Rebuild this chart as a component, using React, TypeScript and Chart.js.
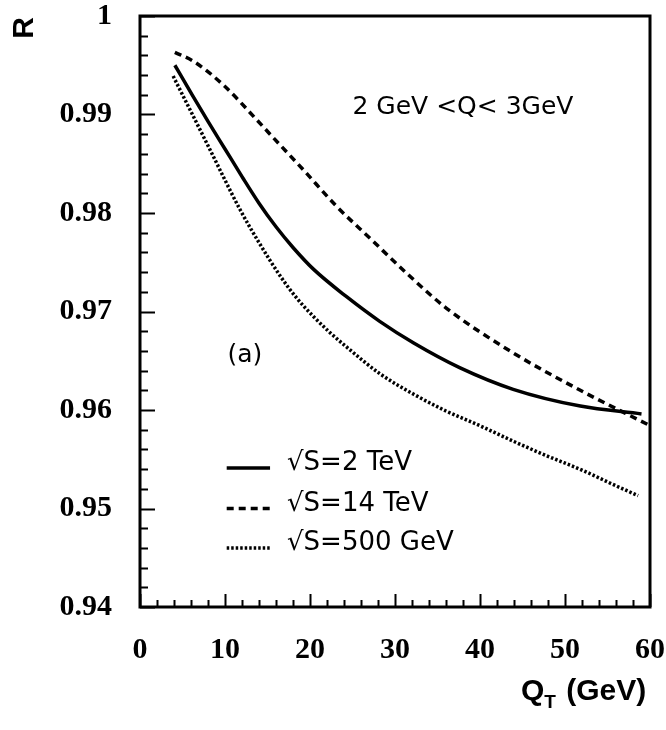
import React, { useEffect, useRef } from "react";
import { Chart, registerables } from "chart.js";

Chart.register(...registerables);

// Q_T (GeV) and R values
const qt2TeV = [4.1, 6, 8, 10, 12, 14, 16, 18, 20.4, 24.3, 28.2, 32.2, 37.6, 43.9, 51.8, 59.0];
const r2TeV = [0.995, 0.9922, 0.9893, 0.9865, 0.9837, 0.981, 0.9786, 0.9765, 0.9743, 0.9715, 0.969, 0.9668, 0.9643, 0.9621, 0.9604, 0.9596];

const qt14TeV = [4.1, 6.3, 9.8, 13.7, 15.3, 19.2, 23.1, 27.1, 31.6, 36.1, 43.9, 51.8, 59.8];
const r14TeV = [0.9963, 0.9954, 0.993, 0.9895, 0.988, 0.9844, 0.9807, 0.9774, 0.9737, 0.9703, 0.9658, 0.962, 0.9585];

const qt500GeV = [3.9, 7.85, 11.8, 14, 16.5, 18.4, 20.4, 22.3, 24.3, 28.2, 32.2, 36.0, 40.0, 44.0, 48.0, 52.0, 55.5, 58.6];
const r500GeV = [0.9939, 0.9871, 0.9803, 0.977, 0.9736, 0.9714, 0.9695, 0.9679, 0.9664, 0.9637, 0.9616, 0.9599, 0.9584, 0.9568, 0.9553, 0.9539, 0.9525, 0.9513];

const xTickValues = [0, 10, 20, 30, 40, 50, 60];
const yTickValues = [0.94, 0.95, 0.96, 0.97, 0.98, 0.99, 1];

const seriesLabels = ["\u221AS=2 TeV", "\u221AS=14 TeV", "\u221AS=500 GeV"];
const rangeLabel = "2 GeV <Q< 3GeV";
const panelLabel = "(a)";

const toPoints = (xs: number[], ys: number[]) => xs.map((x, i) => ({ x, y: ys[i] }));

const DASHES: number[][] = [[], [7, 5], [2.5, 2]];
const WIDTHS = [3.5, 3.5, 3.5];

export default function App() {
  const ref = useRef<HTMLCanvasElement | null>(null);

  useEffect(() => {
    if (!ref.current) return;
    const decor = {
      id: "decor",
      afterDraw(chart: any) {
        const ctx = chart.ctx as CanvasRenderingContext2D;
        const { left, right, top, bottom } = chart.chartArea;
        const xs = chart.scales.x;
        const ys = chart.scales.y;
        ctx.save();
        ctx.strokeStyle = "#000";
        ctx.fillStyle = "#000";
        // ticks
        ctx.lineWidth = 2;
        ctx.beginPath();
        for (let i = 0; i <= 30; i++) {
          const v = i * 2;
          const px = Math.round(xs.getPixelForValue(v)) + 0.5;
          const len = v % 10 === 0 ? 13 : 7;
          ctx.moveTo(px, bottom);
          ctx.lineTo(px, bottom - len);
        }
        for (let i = 0; i <= 30; i++) {
          const v = 0.94 + i * 0.002;
          const py = Math.round(ys.getPixelForValue(v)) + 0.5;
          const len = i % 5 === 0 ? 15 : 8;
          ctx.moveTo(left, py);
          ctx.lineTo(left + len, py);
        }
        ctx.stroke();
        // frame
        ctx.lineWidth = 3;
        ctx.strokeRect(left, top, right - left, bottom - top);

        // annotations
        ctx.textBaseline = "alphabetic";
        ctx.textAlign = "left";
        ctx.font = "25px 'DejaVu Sans'";
        ctx.fillText(rangeLabel, xs.getPixelForValue(25.0), ys.getPixelForValue(0.9901));
        ctx.fillText(panelLabel, xs.getPixelForValue(10.3), ys.getPixelForValue(0.9649));

        // legend
        const rows = [0.9541, 0.95, 0.946];
        const x0 = xs.getPixelForValue(10.2);
        const x1 = xs.getPixelForValue(15.3);
        ctx.font = "26px 'DejaVu Sans'";
        rows.forEach((rv, i) => {
          const py = ys.getPixelForValue(rv);
          ctx.beginPath();
          ctx.lineWidth = WIDTHS[i];
          ctx.setLineDash(DASHES[i]);
          ctx.moveTo(x0, py);
          ctx.lineTo(x1, py);
          ctx.stroke();
          ctx.setLineDash([]);
          ctx.fillText(seriesLabels[i], xs.getPixelForValue(17.3), py + 2);
        });

        // axis titles
        ctx.save();
        ctx.translate(33, 28);
        ctx.rotate(-Math.PI / 2);
        ctx.textAlign = "center";
        ctx.font = "bold 30px 'Liberation Sans'";
        ctx.fillText("R", 0, 0);
        ctx.restore();

        ctx.textAlign = "left";
        const base = 700;
        let tx = 521;
        ctx.font = "bold 30px 'Liberation Sans'";
        ctx.fillText("Q", tx, base);
        tx += ctx.measureText("Q").width;
        ctx.font = "bold 19px 'Liberation Sans'";
        ctx.fillText("T", tx, base + 8);
        tx += ctx.measureText("T").width + 2;
        ctx.font = "bold 30px 'Liberation Sans'";
        ctx.fillText(" (GeV)", tx, base);
        ctx.restore();
      },
    };

    const chart = new Chart(ref.current, {
      type: "line",
      data: {
        datasets: [
          { label: seriesLabels[0], data: toPoints(qt2TeV, r2TeV) },
          { label: seriesLabels[1], data: toPoints(qt14TeV, r14TeV) },
          { label: seriesLabels[2], data: toPoints(qt500GeV, r500GeV) },
        ].map((d, i) => ({
          ...d,
          borderColor: "#000",
          borderWidth: WIDTHS[i],
          borderDash: DASHES[i],
          pointRadius: 0,
          fill: false,
          cubicInterpolationMode: "monotone" as const,
        })),
      },
      options: {
        responsive: false,
        animation: false,
        layout: { padding: { top: 16, right: 16, left: 0, bottom: 0 } },
        plugins: { legend: { display: false }, tooltip: { enabled: false } },
        scales: {
          x: {
            type: "linear",
            min: 0,
            max: 60,
            afterBuildTicks: (s: any) => {
              s.ticks = xTickValues.map((v) => ({ value: v }));
            },
            afterFit: (s: any) => {
              s.height = 123;
              s.paddingLeft = 0;
              s.paddingRight = 0;
              s.paddingTop = 0;
              s.paddingBottom = 0;
            },
            grid: { display: false, drawTicks: false },
            border: { display: false },
            ticks: {
              color: "#000",
              padding: 25,
              maxRotation: 0,
              font: { family: "'Liberation Serif'", weight: "bold", size: 30 },
            },
          },
          y: {
            type: "linear",
            min: 0.94,
            max: 1,
            afterBuildTicks: (s: any) => {
              s.ticks = yTickValues.map((v) => ({ value: v }));
            },
            afterFit: (s: any) => {
              s.width = 140;
              s.paddingLeft = 0;
              s.paddingRight = 0;
              s.paddingTop = 0;
              s.paddingBottom = 0;
            },
            grid: { display: false, drawTicks: false },
            border: { display: false },
            ticks: {
              color: "#000",
              padding: 28,
              font: { family: "'Liberation Serif'", weight: "bold", size: 30 },
              callback: (v: any) => (Math.abs(v - 1) < 1e-9 ? "1" : Number(v).toFixed(2)),
            },
          },
        },
      },
      plugins: [decor],
    } as any);
    return () => chart.destroy();
  }, []);

  return (
    <div style={{ position: "absolute", left: 0, top: 0, width: 666, height: 730, background: "#fff" }}>
      <canvas ref={ref} width={666} height={730} />
    </div>
  );
}
